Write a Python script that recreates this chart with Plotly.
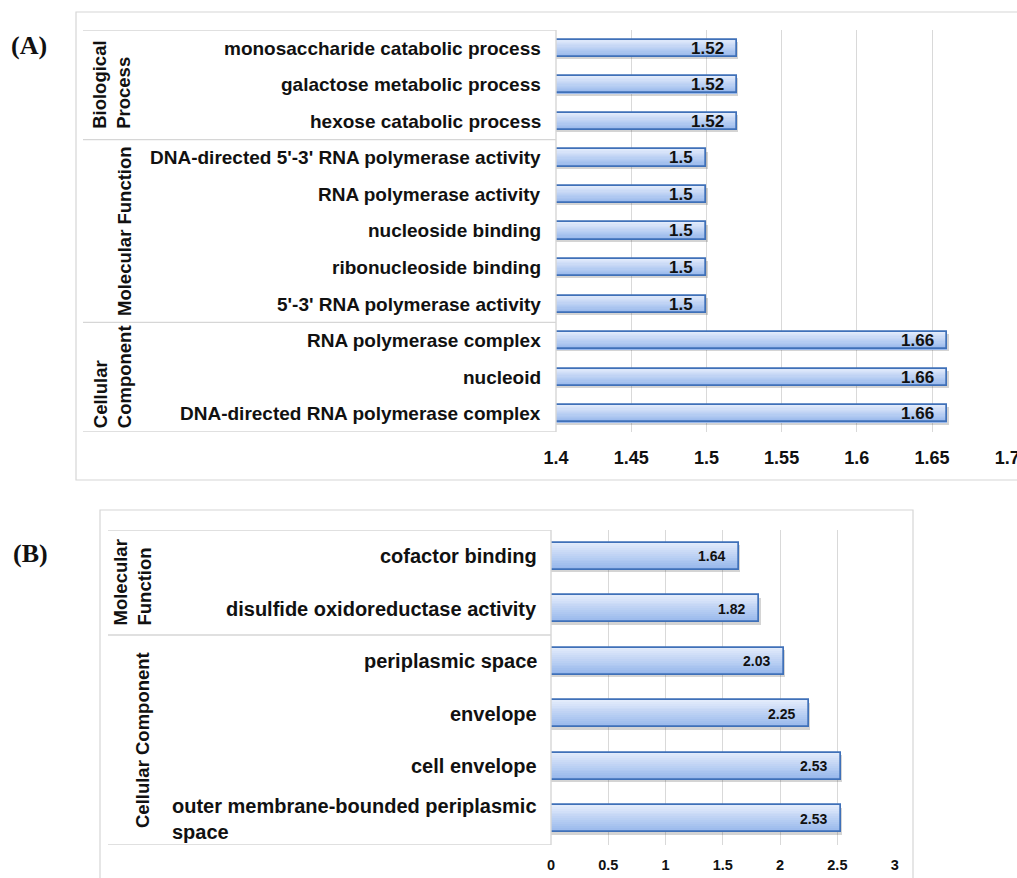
import plotly.graph_objects as go

W, H = 1017, 878

# ---------------- data ----------------
terms_a = [
    "monosaccharide catabolic process",
    "galactose metabolic process",
    "hexose catabolic process",
    "DNA-directed 5'-3' RNA polymerase activity",
    "RNA polymerase activity",
    "nucleoside binding",
    "ribonucleoside binding",
    "5'-3' RNA polymerase activity",
    "RNA polymerase complex",
    "nucleoid",
    "DNA-directed RNA polymerase complex",
]
values_a = [1.52, 1.52, 1.52, 1.5, 1.5, 1.5, 1.5, 1.5, 1.66, 1.66, 1.66]
groups_a = [("Biological<br>Process", 0, 2), ("Molecular Function", 3, 7),
            ("Cellular<br>Component", 8, 10)]
ticks_a = [1.4, 1.45, 1.5, 1.55, 1.6, 1.65, 1.7]
ticktext_a = ["1.4", "1.45", "1.5", "1.55", "1.6", "1.65", "1.7"]

terms_b = [
    "cofactor binding",
    "disulfide oxidoreductase activity",
    "periplasmic space",
    "envelope",
    "cell envelope",
    "outer membrane-bounded periplasmic<br>space",
]
values_b = [1.64, 1.82, 2.03, 2.25, 2.53, 2.53]
groups_b = [("Molecular<br>Function", 0, 1), ("Cellular Component", 2, 5)]
ticks_b = [0, 0.5, 1, 1.5, 2, 2.5, 3]
ticktext_b = ["0", "0.5", "1", "1.5", "2", "2.5", "3"]

# ---------------- styling helpers ----------------
SANS = "Liberation Sans, Arial, Helvetica, sans-serif"
SERIF = "Liberation Serif, Times New Roman, serif"
GRID = "#d9d9d9"
FRAME = "#d6d6d6"
EDGE = "#3f70b8"
TOP_C = (226, 235, 251)
BOT_C = (152, 184, 236)


def px(x):
    return x / W


def py(y):
    return 1 - y / H


def mix(t):
    return "rgb(%d,%d,%d)" % tuple(round(a + (b - a) * t) for a, b in zip(TOP_C, BOT_C))


fig = go.Figure()


def add_bars(values, base, xa, ya, width, shadow_dx, shadow_dy):
    ys = list(range(len(values)))
    lengths = [v - base for v in values]
    # soft drop shadow
    fig.add_trace(go.Bar(
        x=[l + shadow_dx for l in lengths], y=ys, base=base, orientation="h",
        width=width, offset=-width / 2 + shadow_dy,
        marker=dict(color="rgba(60,60,60,0.22)", line=dict(width=0)),
        xaxis=xa, yaxis=ya, hoverinfo="skip", showlegend=False))
    # vertical gradient fill built from thin bands
    n = 14
    for i in range(n):
        fig.add_trace(go.Bar(
            x=lengths, y=ys, base=base, orientation="h",
            width=width / n * 1.02, offset=-width / 2 + i * width / n,
            marker=dict(color=mix(i / (n - 1)), line=dict(width=0)),
            xaxis=xa, yaxis=ya, hoverinfo="skip", showlegend=False))
    # outline
    fig.add_trace(go.Bar(
        x=lengths, y=ys, base=base, orientation="h", width=width,
        offset=-width / 2,
        marker=dict(color="rgba(0,0,0,0)", line=dict(color=EDGE, width=1.7)),
        xaxis=xa, yaxis=ya, showlegend=False))


add_bars(values_a, 1.4, "x", "y", 0.47, 0.0012, 0.06)
add_bars(values_b, 0.0, "x2", "y2", 0.51, 0.012, 0.05)

annotations = []
shapes = []

# value labels inside the bar ends
for i, v in enumerate(values_a):
    annotations.append(dict(x=v, y=i, xref="x", yref="y", text="<b>%g</b>" % v,
                            showarrow=False, xanchor="right", yanchor="middle", xshift=-11,
                            font=dict(family=SANS, size=17, color="#111")))
for i, v in enumerate(values_b):
    annotations.append(dict(x=v, y=i, xref="x2", yref="y2", text="<b>%g</b>" % v,
                            showarrow=False, xanchor="right", yanchor="middle", xshift=-12,
                            font=dict(family=SANS, size=14, color="#111")))

# term labels
for i, t in enumerate(terms_a):
    annotations.append(dict(x=px(543), y=i, xref="paper", yref="y", text="<b>%s</b>" % t,
                            showarrow=False, xanchor="right", yanchor="middle", align="right",
                            font=dict(family=SANS, size=19, color="#111")))
for i, t in enumerate(terms_b):
    annotations.append(dict(x=px(539), y=i, xref="paper", yref="y2", text="<b>%s</b>" % t,
                            showarrow=False, xanchor="right", yanchor="middle", align="left",
                            font=dict(family=SANS, size=20, color="#111")))

# group labels (rotated)
for name, a, b in groups_a:
    annotations.append(dict(x=px(112) if "<br>" in name else px(125), y=(a + b) / 2,
                            xref="paper", yref="y", text="<b>%s</b>" % name,
                            textangle=-90, showarrow=False, align="left",
                            xanchor="center", yanchor="middle",
                            font=dict(family=SANS, size=18.5, color="#111")))
for name, a, b in groups_b:
    annotations.append(dict(x=px(132) if "<br>" in name else px(142), y=(a + b) / 2,
                            xref="paper", yref="y2", text="<b>%s</b>" % name,
                            textangle=-90, showarrow=False, align="left",
                            xanchor="center", yanchor="middle",
                            font=dict(family=SANS, size=18.5, color="#111")))

# panel letters
annotations.append(dict(x=px(29), y=py(45), xref="paper", yref="paper", text="<b>(A)</b>",
                        showarrow=False, xanchor="center", yanchor="middle",
                        font=dict(family=SERIF, size=26, color="#111")))
annotations.append(dict(x=px(30), y=py(553), xref="paper", yref="paper", text="<b>(B)</b>",
                        showarrow=False, xanchor="center", yanchor="middle",
                        font=dict(family=SERIF, size=26, color="#111")))

# outer panel frames
shapes.append(dict(type="rect", xref="paper", yref="paper", x0=px(76), x1=1.05,
                   y0=py(480), y1=py(12), line=dict(color=FRAME, width=1.2)))
shapes.append(dict(type="rect", xref="paper", yref="paper", x0=px(100), x1=px(913),
                   y0=-0.05, y1=py(510), line=dict(color=FRAME, width=1.2)))

# label table lines, panel A
for yv in [-0.5, 2.5, 7.5, 10.5]:
    shapes.append(dict(type="line", xref="paper", yref="y", x0=px(83), x1=px(556),
                       y0=yv, y1=yv, line=dict(color=FRAME, width=1.4)))
shapes.append(dict(type="line", xref="paper", yref="y", x0=px(556), x1=px(556),
                   y0=-0.5, y1=10.5, line=dict(color=FRAME, width=1.4)))
# label table lines, panel B
for yv in [-0.5, 1.5, 5.5]:
    shapes.append(dict(type="line", xref="paper", yref="y2", x0=px(108), x1=px(551),
                       y0=yv, y1=yv, line=dict(color=FRAME, width=1.4)))
shapes.append(dict(type="line", xref="paper", yref="y2", x0=px(551), x1=px(551),
                   y0=-0.5, y1=5.5, line=dict(color=FRAME, width=1.4)))

fig.update_layout(
    width=W, height=H, autosize=False,
    margin=dict(l=0, r=0, t=0, b=0, pad=0, autoexpand=False),
    paper_bgcolor="white", plot_bgcolor="white",
    barmode="overlay", bargap=0, showlegend=False,
    annotations=annotations, shapes=shapes,
    xaxis=dict(domain=[px(556), px(1008)], range=[1.4, 1.7005], anchor="y",
               automargin=False, ticklabeloverflow="allow",
               tickvals=ticks_a, ticktext=ticktext_a, showgrid=True, gridcolor=GRID,
               gridwidth=1.4, zeroline=False, showline=False, ticks="",
               ticklabelstandoff=13,
               tickfont=dict(family=SANS, size=18, color="#111", weight="bold")),
    yaxis=dict(domain=[py(432), py(30)], range=[10.5, -0.5], anchor="x",
               automargin=False,
               showticklabels=False, showgrid=False, zeroline=False, ticks=""),
    xaxis2=dict(domain=[px(551), px(895)], range=[0, 3.003], anchor="y2",
                automargin=False, ticklabeloverflow="allow",
                tickvals=ticks_b, ticktext=ticktext_b, showgrid=True, gridcolor=GRID,
                gridwidth=1.4, zeroline=False, showline=False, ticks="",
                ticklabelstandoff=9,
                tickfont=dict(family=SANS, size=14.5, color="#111", weight="bold")),
    yaxis2=dict(domain=[py(845), py(530)], range=[5.5, -0.5], anchor="x2",
                automargin=False,
                showticklabels=False, showgrid=False, zeroline=False, ticks=""),
)

fig.write_html("out.html")
